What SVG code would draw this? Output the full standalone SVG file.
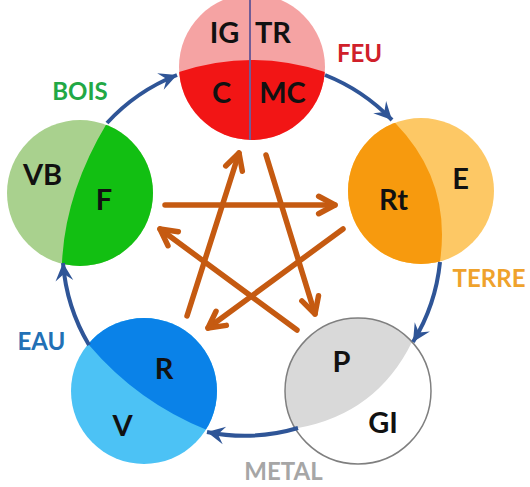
<svg xmlns="http://www.w3.org/2000/svg" width="530" height="487" viewBox="0 0 530 487">
<style>
.t{font-family:Lato,"Liberation Sans",sans-serif;font-weight:700;font-size:29px;fill:#111;text-anchor:middle}
.lab{font-family:Lato,"Liberation Sans",sans-serif;font-weight:700;font-size:24px;text-anchor:middle}
.cyc{fill:none;stroke:#2F5597;stroke-width:4;marker-end:url(#ab)}
.star{stroke:#C55A11;stroke-width:5.5;stroke-linecap:round;marker-end:url(#as)}
</style>
<defs>
<marker id="ab" markerUnits="userSpaceOnUse" markerWidth="22" markerHeight="20" viewBox="-17 -9 19 18" refX="0" refY="0" orient="auto">
<path d="M0,0 L-16,-8 L-10,0 L-16,8 Z" fill="#2F5597"/>
</marker>
<marker id="as" markerUnits="userSpaceOnUse" markerWidth="24" markerHeight="24" viewBox="-18 -11 22 22" refX="0" refY="0" orient="auto">
<path d="M-15,-8 L0,0 L-15,8" fill="none" stroke="#C55A11" stroke-width="5" stroke-linecap="round" stroke-linejoin="round"/>
</marker>
<clipPath id="cFire"><circle cx="252" cy="67" r="73"/></clipPath>
<clipPath id="cEarth"><circle cx="421" cy="191" r="73"/></clipPath>
<clipPath id="cMetal"><circle cx="358" cy="391" r="73"/></clipPath>
<clipPath id="cWater"><circle cx="144" cy="391" r="73"/></clipPath>
<clipPath id="cWood"><circle cx="80" cy="193" r="73"/></clipPath>
</defs>
<rect width="530" height="487" fill="#fff"/>

<g id="fire">
<circle cx="252" cy="67" r="73" fill="#F5A3A3"/>
<path d="M170,74 L179,72 Q252,48 325,72 L340,74 L340,150 L170,150 Z" fill="#F21515" clip-path="url(#cFire)"/>
<line x1="250" y1="-6" x2="250" y2="140" stroke="#705C96" stroke-width="2" clip-path="url(#cFire)"/>
<text class="t" x="224.5" y="43">IG</text>
<text class="t" x="273" y="43">TR</text>
<text class="t" x="221.5" y="103">C</text>
<text class="t" x="282.5" y="103">MC</text>
</g>

<g id="earth">
<circle cx="421" cy="191" r="73" fill="#FDC865"/>
<path d="M393,110 L395,122.8 Q451.7,181 440,261.5 L442,272 L340,272 L340,110 Z" fill="#F79A0E" clip-path="url(#cEarth)"/>
<text class="t" x="393.5" y="210">Rt</text>
<text class="t" x="460.5" y="189">E</text>
</g>

<g id="metal">
<circle cx="358" cy="391" r="73" fill="#fff"/>
<path d="M420,336 L412,342 Q376.7,413.7 298,428 L270,440 L270,300 L450,300 Z" fill="#D9D9D9" clip-path="url(#cMetal)"/>
<circle cx="358" cy="391" r="73" fill="none" stroke="#7F7F7F" stroke-width="1.5"/>
<text class="t" x="341.5" y="372">P</text>
<text class="t" x="383" y="433">GI</text>
</g>

<g id="water">
<circle cx="144" cy="391" r="73" fill="#4CC2F5"/>
<path d="M80,338 L89,345 Q137.5,402 207,430 L230,440 L230,300 L60,300 Z" fill="#0A82E8" clip-path="url(#cWater)"/>
<text class="t" x="164" y="379">R</text>
<text class="t" x="122.5" y="436">V</text>
</g>

<g id="wood">
<circle cx="80" cy="193" r="73" fill="#A9D18E"/>
<path d="M108,115 L107,123 Q65,193 62,263 L60,275 L170,275 L170,110 Z" fill="#12BF12" clip-path="url(#cWood)"/>
<text class="t" x="42.5" y="185">VB</text>
<text class="t" x="104" y="210">F</text>
</g>

<g id="labels">
<text class="lab" x="80" y="100" fill="#22A845">BOIS</text>
<text class="lab" x="359.5" y="62" fill="#D0202A">FEU</text>
<text class="lab" x="489" y="287" fill="#EFA22C">TERRE</text>
<text class="lab" x="283.5" y="480" fill="#A6A6A6">METAL</text>
<text class="lab" x="41.5" y="350" fill="#2270B5">EAU</text>
</g>

<g id="connectors">
<path class="cyc" d="M107,123 A189,189 0 0 1 177,75"/>
<path class="cyc" d="M325,75 A189,189 0 0 1 392,120"/>
<path class="cyc" d="M440,262 A189,189 0 0 1 413,342"/>
<path class="cyc" d="M298,428 A189,189 0 0 1 207,432"/>
<path class="cyc" d="M89,345 A189,189 0 0 1 63,263"/>
<line class="star" x1="187" y1="316" x2="239" y2="153"/>
<line class="star" x1="266" y1="155" x2="315" y2="314"/>
<line class="star" x1="297" y1="330" x2="160" y2="229"/>
<line class="star" x1="165" y1="205" x2="335" y2="205"/>
<line class="star" x1="343" y1="229" x2="208" y2="328"/>
</g>
</svg>
